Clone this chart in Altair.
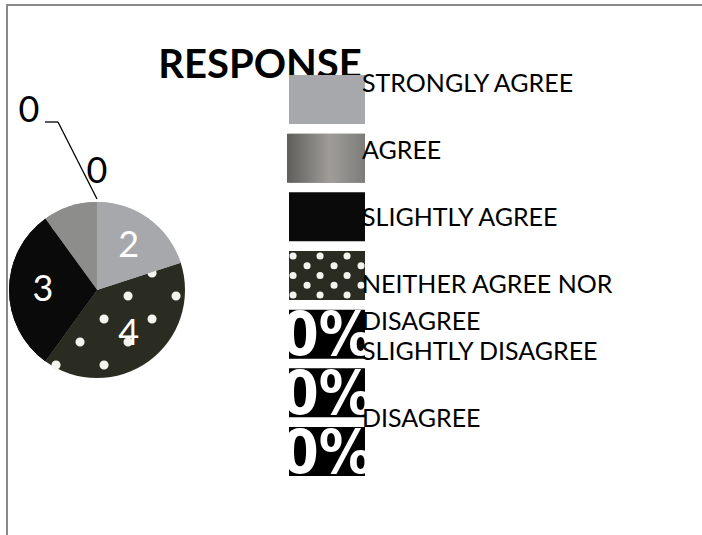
import math
import altair as alt
import pandas as pd

# ---------------- data ----------------
TITLE = "RESPONSE"
CATEGORIES = ["STRONGLY AGREE", "AGREE", "SLIGHTLY AGREE", "NEITHER AGREE NOR DISAGREE",
              "SLIGHTLY DISAGREE", "DISAGREE", "STRONGLY DISAGREE"]
VALUES = [2, 1, 3, 4, 0, 0, 0]
LEGEND_LABELS = ["STRONGLY AGREE", "AGREE", "SLIGHTLY AGREE", "NEITHER AGREE NOR\nDISAGREE",
                 "SLIGHTLY DISAGREE", "DISAGREE"]
PIE_ORDER = ["STRONGLY AGREE", "NEITHER AGREE NOR DISAGREE", "SLIGHTLY AGREE", "AGREE",
             "SLIGHTLY DISAGREE", "DISAGREE", "STRONGLY DISAGREE"]
SWATCH_TEXT = "0%"

# ---------------- styles ----------------
COLORS = ["#a6a8ab", "#8d8d8b", "#0a0a0a", "#2a2c21", "#000000", "#000000", "#000000"]
NEITHER = CATEGORIES[3]
AGREE = CATEGORIES[1]
CX, CY, R = 97, 290, 88

df = pd.DataFrame({"category": CATEGORIES, "value": VALUES,
                   "slot": [PIE_ORDER.index(c) for c in CATEGORIES]})
lab_df = pd.DataFrame({"category": CATEGORIES[:len(LEGEND_LABELS)], "label": LEGEND_LABELS})
one = pd.DataFrame({"t": [TITLE]})

center = dict(x=alt.value(CX), y=alt.value(CY))
color = alt.Color("category:N", scale=alt.Scale(domain=CATEGORIES, range=COLORS), legend=None)
theta = alt.Theta("value:Q", stack=True)
order = alt.Order("slot:Q")

layers = []

# frame
layers.append(alt.Chart(one).mark_rule(color="#8a8a8a", strokeWidth=2).encode(
    x=alt.value(7), y=alt.value(4), y2=alt.value(535)))
layers.append(alt.Chart(one).mark_rule(color="#8a8a8a", strokeWidth=2).encode(
    x=alt.value(7), x2=alt.value(702), y=alt.value(5)))

# pie (all slices)
layers.append(alt.Chart(df).mark_arc(radius=R).encode(theta=theta, order=order, color=color, **center))

# white-dot texture rows (drawn inside the circle, later covered by other slices)
DOT_DX, DOT_DY, DOT_Y0 = 48, 23, 273
for k in range(-4, 5):
    yy = DOT_Y0 + DOT_DY * k
    if abs(yy - CY) >= R - 3:
        continue
    h = math.sqrt(R * R - (yy - CY) ** 2)
    off = 8 if k % 2 == 0 else 32
    lo = CX - h + 3
    start = off + math.ceil((lo - off) / DOT_DX) * DOT_DX
    end = CX + h - 3
    if start < end:
        layers.append(alt.Chart(one).mark_rule(
            color="#f4f4ee", strokeWidth=9, strokeCap="round", strokeDash=[0.1, DOT_DX - 0.1]
        ).encode(x=alt.value(start), x2=alt.value(end), y=alt.value(yy)))

# cover other slices over the texture
layers.append(alt.Chart(df).mark_arc(radius=R).encode(
    theta=theta, order=order, color=color,
    fillOpacity=alt.condition(f"datum.category == '{NEITHER}'", alt.value(0), alt.value(1)),
    **center))

# slice labels
layers.append(alt.Chart(df).transform_filter(
    f"datum.value > 0 && datum.category != '{AGREE}'"
).mark_text(radius=54, font="Lato", fontSize=36, color="white").encode(
    theta=theta, order=order, text="value:Q", **center))

# zero labels
layers.append(alt.Chart(df).transform_filter(f"datum.category == '{CATEGORIES[4]}'").mark_text(
    radius=118, font="Lato", fontSize=36, color="black").encode(
    theta=theta, order=order, text="value:Q", **center))
layers.append(alt.Chart(df).transform_filter(f"datum.category == '{CATEGORIES[5]}'").mark_text(
    radius=118, font="Lato", fontSize=36, color="black", dx=-68, dy=-61).encode(
    theta=theta, order=order, text="value:Q", **center))
# leader line
layers.append(alt.Chart(one).mark_rule(color="black", strokeWidth=1.3).encode(
    x=alt.value(45), x2=alt.value(58), y=alt.value(122), y2=alt.value(122)))
layers.append(alt.Chart(one).mark_rule(color="black", strokeWidth=1.3).encode(
    x=alt.value(58), x2=alt.value(97), y=alt.value(122), y2=alt.value(199)))

# title
layers.append(alt.Chart(one).mark_text(font="Lato", fontWeight="bold", fontSize=40,
                                       baseline="alphabetic", align="center").encode(
    text="t:N", x=alt.value(260), y=alt.value(78)))

# legend swatches
band_scale = alt.Scale(type="band", domain=CATEGORIES, range=[75, 476], paddingInner=0.165, paddingOuter=0)
ly = alt.Y("category:N", scale=band_scale, axis=None)
layers.append(alt.Chart(df).mark_rect().encode(y=ly, x=alt.value(289), x2=alt.value(365), color=color))
grad = alt.Gradient(gradient="linear", x1=0, x2=1, y1=0, y2=0, stops=[
    alt.GradientStop(color="#5e5e5a", offset=0),
    alt.GradientStop(color="#a09d99", offset=0.55),
    alt.GradientStop(color="#7c7c79", offset=1)])
layers.append(alt.Chart(df).transform_filter(f"datum.category == '{AGREE}'").mark_rect(color=grad).encode(
    y=ly, x=alt.value(287), x2=alt.value(365)))
for i, bp in enumerate([0.1, 0.3, 0.5, 0.7, 0.9]):
    layers.append(alt.Chart(df).transform_filter(f"datum.category == '{NEITHER}'").mark_rule(
        color="#f4f4ee", strokeWidth=7, strokeCap="round", strokeDash=[0.1, 26.9]).encode(
        y=alt.Y("category:N", scale=band_scale, axis=None, bandPosition=bp),
        x=alt.value(293 if i % 2 == 0 else 307), x2=alt.value(366)))
layers.append(alt.Chart(df).transform_filter("datum.value == 0").mark_text(
    font="Liberation Sans Narrow, DejaVu Sans Condensed", fontWeight="bold", fontSize=60,
    color="white", baseline="middle", align="center", dy=3).encode(
    text=alt.value(SWATCH_TEXT),
    y=alt.Y("category:N", scale=band_scale, axis=None, bandPosition=0.5),
    x=alt.value(327)))

# legend labels
layers.append(alt.Chart(lab_df).mark_text(font="Lato", fontSize=25, align="left", baseline="alphabetic",
                                          lineBreak="\n", lineHeight=37, color="black").encode(
    text="label:N", x=alt.value(362),
    y=alt.Y("category:N", scale=alt.Scale(type="point", domain=CATEGORIES[:len(LEGEND_LABELS)],
                                           range=[92, 427], padding=0), axis=None)))

chart = alt.layer(*layers).resolve_scale(y="independent").properties(
    width=702, height=535, autosize=alt.AutoSizeParams(type="none"), padding=0,
    background="white").configure_view(strokeWidth=0)

chart.save("out.html", embed_options={"renderer": "svg", "actions": False})
